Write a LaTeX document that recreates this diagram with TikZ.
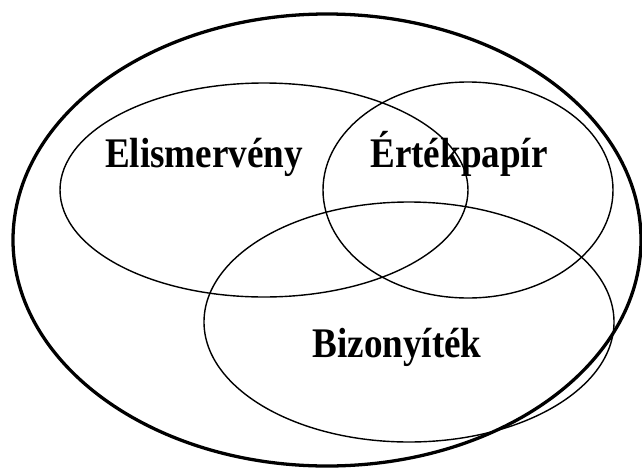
\documentclass[tikz,border=0pt]{standalone}
\usepackage{fontspec}
\setmainfont{Liberation Serif}
\tikzset{
	setname/.style = {anchor=base, inner sep=0pt, font=\fontsize{36}{40}\selectfont\bfseries, xscale=0.88},
	setline/.style = {line width=1.2pt},
	allline/.style = {line width=2.8pt}
}
\begin{document}
\begin{tikzpicture}[x=0.03cm, y=-0.03cm]
		\useasboundingbox (0,0) rectangle (642,469);
		
		\draw[allline] (327,240) ellipse (314 and 226);
		\draw[setline] (264,190) ellipse (204 and 107);
		\draw[setline] (468,190) ellipse (145 and 108);
		\draw[setline] (409,322) ellipse (205 and 120);
		
		\node[setname] (elism) at (204,167) {Elismervény};
		\node[setname] (ertek) at (459,167) {Értékpapír};
		\node[setname] (bizony) at (397,357) {Bizonyíték};
	\end{tikzpicture}
\end{document}
